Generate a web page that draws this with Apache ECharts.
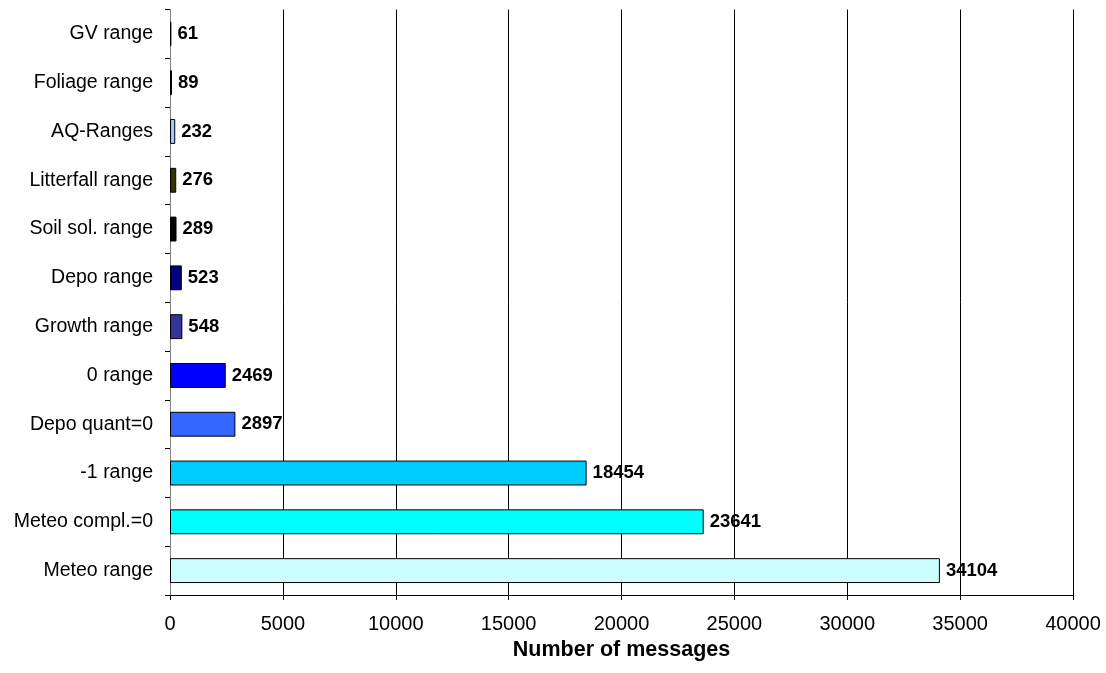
<!DOCTYPE html>
<html>
<head>
<meta charset="utf-8">
<script src="https://cdn.jsdelivr.net/npm/echarts@6/dist/echarts.min.js"></script>
<style>
  html, body { margin: 0; padding: 0; background: #fff; }
  #chart { width: 1106px; height: 673px; }
</style>
</head>
<body>
<div id="chart"></div>
<script>
// Categories listed bottom to top (first entry sits at the bottom of the axis)
const categories = [
  'Meteo range', 'Meteo compl.=0', '-1 range', 'Depo quant=0', '0 range',
  'Growth range', 'Depo range', 'Soil sol. range', 'Litterfall range',
  'AQ-Ranges', 'Foliage range', 'GV range'
];
const messageCounts = [34104, 23641, 18454, 2897, 2469, 548, 523, 289, 276, 232, 89, 61];
const barColors = [
  '#ccffff', '#00ffff', '#00ccff', '#3366ff', '#0000ff',
  '#333399', '#000080', '#000000', '#333300',
  '#99ccff', '#1c2430', '#000000'
];

const chart = echarts.init(document.getElementById('chart'), null, { renderer: 'canvas' });

chart.setOption({
  animation: false,
  backgroundColor: '#ffffff',
  grid: { left: 170, right: 33, top: 9.5, bottom: 78, containLabel: false },
  xAxis: {
    type: 'value',
    min: 0,
    max: 40000,
    interval: 5000,
    name: 'Number of messages',
    nameLocation: 'middle',
    nameGap: 41,
    nameTextStyle: { fontFamily: 'Liberation Sans', fontWeight: 'bold', fontSize: 21.5, color: '#000' },
    axisLine: { show: true, lineStyle: { color: '#000', width: 1 } },
    axisTick: { show: true, length: 5, lineStyle: { color: '#000' } },
    axisLabel: {
      fontFamily: 'Liberation Sans', fontSize: 20, color: '#000', margin: 19,
      formatter: (v) => String(v)
    },
    splitLine: { show: true, lineStyle: { color: '#000', width: 1 } }
  },
  yAxis: {
    type: 'category',
    data: categories,
    axisLine: { show: true, lineStyle: { color: '#808080', width: 1 } },
    axisTick: { show: true, length: 5, lineStyle: { color: '#000' } },
    axisLabel: { fontFamily: 'Liberation Sans', fontSize: 19.5, color: '#000', margin: 17 },
    splitLine: { show: false }
  },
  series: [{
    type: 'bar',
    data: messageCounts.map((v, i) => ({
      value: v,
      itemStyle: { color: barColors[i], borderColor: '#000', borderWidth: 1 }
    })),
    barCategoryGap: '49%',
    label: {
      show: true,
      position: 'right',
      distance: 6,
      fontFamily: 'Liberation Sans',
      fontWeight: 'bold',
      fontSize: 18.5,
      color: '#000'
    }
  }]
});
</script>
</body>
</html>
